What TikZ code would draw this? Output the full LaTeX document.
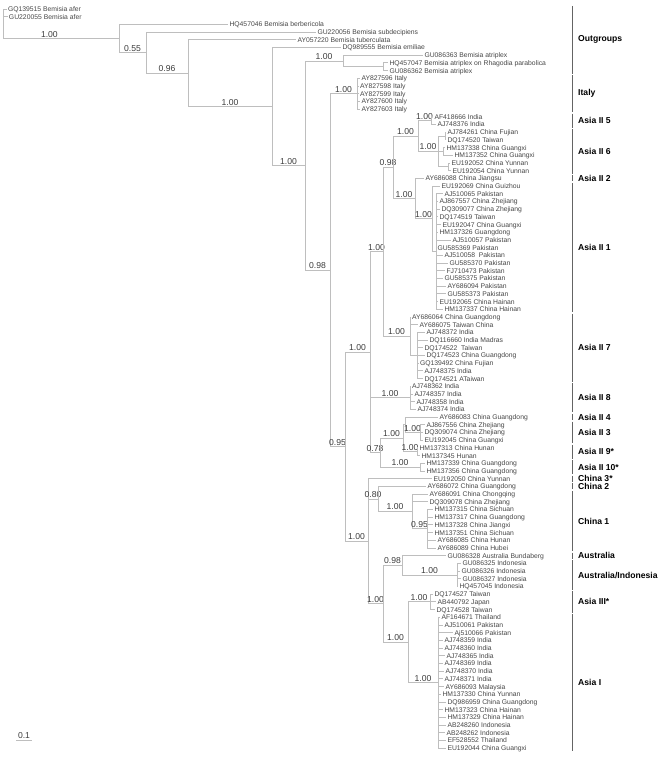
\documentclass[tikz,border=0pt]{standalone}
\usepackage{fontspec}
\setmainfont{Liberation Sans}
\usetikzlibrary{positioning}
\definecolor{brgray}{RGB}{190,190,190}
\definecolor{leafgray}{RGB}{70,70,70}
\definecolor{labgray}{RGB}{60,60,60}
\definecolor{bargray}{RGB}{100,100,100}
\begin{document}
\begin{tikzpicture}[
    x=1pt, y=-7.7pt,
    br/.style={draw=brgray, line width=0.85pt},
    leaf/.style={anchor=west, inner xsep=1.3pt, inner ysep=0pt, text height=5.2pt, text depth=0.4pt, text=leafgray, font=\fontsize{6.8}{8}\selectfont},
    bslab/.style={above, pos=.75, inner sep=1pt, text=labgray, font=\fontsize{8.6}{9}\selectfont},
    clade/.style={anchor=west, inner sep=0pt, font=\bfseries\fontsize{8.6}{10}\selectfont},
    bar/.style={draw=bargray, line width=0.9pt}
]
\useasboundingbox (0,-0.169) rectangle (661,98.79);

% inner nodes
\coordinate (r0)    at (3,4.834);
\coordinate (n119)  at (119,4.834);
\coordinate (n146)  at (146,6.667);
\coordinate (n188)  at (188,9.335);
\coordinate (n272)  at (272,13.669);
\coordinate (n305)  at (305,21.338);
\coordinate (nAtr)  at (343,7.75);
\coordinate (nAtr2) at (383,8.5);
\coordinate (n330)  at (330,34.926);
\coordinate (nIta)  at (357,12);
\coordinate (n345)  at (345,57.852);
\coordinate (nA)    at (370,45.578);
\coordinate (nI)    at (383,32.531);
\coordinate (nC)    at (393,21.563);
\coordinate (nE)    at (418,17.5);
\coordinate (n5)    at (431,15.5);
\coordinate (n6)    at (438,19.5);
\coordinate (p1)    at (445,17.5);
\coordinate (p2)    at (443,19.5);
\coordinate (p3)    at (448,21.5);
\coordinate (nG)    at (415,25.625);
\coordinate (nH)    at (432,28.25);
\coordinate (nH2)   at (436,32.5);
\coordinate (n7)    at (410,43.5);
\coordinate (nW)    at (417,46);
\coordinate (n8)    at (410,51.5);
\coordinate (nJ)    at (380,58.625);
\coordinate (nK)    at (403,56.75);
\coordinate (nL)    at (405,55);
\coordinate (n3)    at (420,56);
\coordinate (n9)    at (417,58.5);
\coordinate (n10)   at (420,60.5);
\coordinate (nB)    at (368,70.125);
\coordinate (nO)    at (378,64.625);
\coordinate (nCh1)  at (412,66.25);
\coordinate (nN)    at (427,68.5);
\coordinate (nS)    at (383,78.25);
\coordinate (nT)    at (402,73.25);
\coordinate (nU)    at (457,74.5);
\coordinate (nR)    at (408,83.25);
\coordinate (n3s)   at (430,78);
\coordinate (n1)    at (438,88.5);

% leaves
\node[leaf] (l1)  at (6.5,1)  {GQ139515 Bemisia afer};
\node[leaf] (l2)  at (7.5,2)  {GU220055 Bemisia afer};
\node[leaf] (l3)  at (228,3)  {HQ457046 Bemisia berbericola};
\node[leaf] (l4)  at (316,4)  {GU220056 Bemisia subdecipiens};
\node[leaf] (l5)  at (296,5)  {AY057220 Bemisia tuberculata};
\node[leaf] (l6)  at (341,6)  {DQ989555 Bemisia emiliae};
\node[leaf] (l7)  at (423,7)  {GU086363 Bemisia atriplex};
\node[leaf] (l8)  at (388,8)  {HQ457047 Bemisia atriplex on Rhagodia parabolica};
\node[leaf] (l9)  at (388,9)  {GU086362 Bemisia atriplex};
\node[leaf] (l10) at (360,10) {AY827596 Italy};
\node[leaf] (l11) at (358.5,11) {AY827598 Italy};
\node[leaf] (l12) at (358.5,12) {AY827599 Italy};
\node[leaf] (l13) at (360,13) {AY827600 Italy};
\node[leaf] (l14) at (360,14) {AY827603 Italy};
\node[leaf] (l15) at (433,15) {AF418666 India};
\node[leaf] (l16) at (436,16) {AJ748376 India};
\node[leaf] (l17) at (446,17) {AJ784261 China Fujian};
\node[leaf] (l18) at (446,18) {DQ174520 Taiwan};
\node[leaf] (l19) at (445,19) {HM137338 China Guangxi};
\node[leaf] (l20) at (453,20) {HM137352 China Guangxi};
\node[leaf] (l21) at (450,21) {EU192052 China Yunnan};
\node[leaf] (l22) at (451,22) {EU192054 China Yunnan};
\node[leaf] (l23) at (424,23) {AY686088 China Jiangsu};
\node[leaf] (l24) at (440,24) {EU192069 China Guizhou};
\node[leaf] (l25) at (443,25) {AJ510065 Pakistan};
\node[leaf] (l26) at (438,26) {AJ867557 China Zhejiang};
\node[leaf] (l27) at (440,27) {DQ309077 China Zhejiang};
\node[leaf] (l28) at (438,28) {DQ174519 Taiwan};
\node[leaf] (l29) at (441,29) {EU192047 China Guangxi};
\node[leaf] (l30) at (438,30) {HM137326 Guangdong};
\node[leaf] (l31) at (451,31) {AJ510057 Pakistan};
\node[leaf] (l32) at (436,32) {GU585369 Pakistan};
\node[leaf] (l33) at (443,33) {AJ510058\ \ Pakistan};
\node[leaf] (l34) at (448,34) {GU585370 Pakistan};
\node[leaf] (l35) at (445,35) {FJ710473 Pakistan};
\node[leaf] (l36) at (443,36) {GU585375 Pakistan};
\node[leaf] (l37) at (446,37) {AY686094 Pakistan};
\node[leaf] (l38) at (446,38) {GU585373 Pakistan};
\node[leaf] (l39) at (438,39) {EU192065 China Hainan};
\node[leaf] (l40) at (443,40) {HM137337 China Hainan};
\node[leaf] (l41) at (410.5,41) {AY686064 China Guangdong};
\node[leaf] (l42) at (418,42) {AY686075 Taiwan China};
\node[leaf] (l43) at (425,43) {AJ748372 India};
\node[leaf] (l44) at (428,44) {DQ116660 India Madras};
\node[leaf] (l45) at (423,45) {DQ174522\ \ Taiwan};
\node[leaf] (l46) at (425,46) {DQ174523 China Guangdong};
\node[leaf] (l47) at (418.5,47) {GQ139492 China Fujian};
\node[leaf] (l48) at (423,48) {AJ748375 India};
\node[leaf] (l49) at (423,49) {DQ174521 ATaiwan};
\node[leaf] (l50) at (410.5,50) {AJ748362 India};
\node[leaf] (l51) at (413,51) {AJ748357 India};
\node[leaf] (l52) at (415,52) {AJ748358 India};
\node[leaf] (l53) at (416,53) {AJ748374 India};
\node[leaf] (l54) at (438,54) {AY686083 China Guangdong};
\node[leaf] (l55) at (425,55) {AJ867556 China Zhejiang};
\node[leaf] (l56) at (423,56) {DQ309074 China Zhejiang};
\node[leaf] (l57) at (423,57) {EU192045 China Guangxi};
\node[leaf] (l58) at (418,58) {HM137313 China Hunan};
\node[leaf] (l59) at (420,59) {HM137345 Hunan};
\node[leaf] (l60) at (425,60) {HM137339 China Guangdong};
\node[leaf] (l61) at (425,61) {HM137356 China Guangdong};
\node[leaf] (l62) at (432,62) {EU192050 China Yunnan};
\node[leaf] (l63) at (426,63) {AY686072 China Guangdong};
\node[leaf] (l64) at (428,64) {AY686091 China Chongqing};
\node[leaf] (l65) at (428,65) {DQ309078 China Zhejiang};
\node[leaf] (l66) at (433,66) {HM137315 China Sichuan};
\node[leaf] (l67) at (433,67) {HM137317 China Guangdong};
\node[leaf] (l68) at (433,68) {HM137328 China Jiangxi};
\node[leaf] (l69) at (433,69) {HM137351 China Sichuan};
\node[leaf] (l70) at (436,70) {AY686085 China Hunan};
\node[leaf] (l71) at (436,71) {AY686089 China Hubei};
\node[leaf] (l72) at (446,72) {GU086328 Australia Bundaberg};
\node[leaf] (l73) at (461,73) {GU086325 Indonesia};
\node[leaf] (l74) at (460,74) {GU086326 Indonesia};
\node[leaf] (l75) at (461,75) {GU086327 Indonesia};
\node[leaf] (l76) at (458,76) {HQ457045 Indonesia};
\node[leaf] (l77) at (433,77) {DQ174527 Taiwan};
\node[leaf] (l78) at (436,78) {AB440792 Japan};
\node[leaf] (l79) at (435,79) {DQ174528 Taiwan};
\node[leaf] (l80) at (440,80) {AF164671 Thailand};
\node[leaf] (l81) at (443,81) {AJ510061 Pakistan};
\node[leaf] (l82) at (453,82) {Aj510066 Pakistan};
\node[leaf] (l83) at (443,83) {AJ748359 India};
\node[leaf] (l84) at (443,84) {AJ748360 India};
\node[leaf] (l85) at (445,85) {AJ748365 India};
\node[leaf] (l86) at (443,86) {AJ748369 India};
\node[leaf] (l87) at (444,87) {AJ748370 India};
\node[leaf] (l88) at (443,88) {AJ748371 India};
\node[leaf] (l89) at (444,89) {AY686093 Malaysia};
\node[leaf] (l90) at (441,90) {HM137330 China Yunnan};
\node[leaf] (l91) at (446,91) {DQ986959 China Guangdong};
\node[leaf] (l92) at (443,92) {HM137323 China Hainan};
\node[leaf] (l93) at (446,93) {HM137329 China Hainan};
\node[leaf] (l94) at (446,94) {AB248260 Indonesia};
\node[leaf] (l95) at (445,95) {AB248262 Indonesia};
\node[leaf] (l96) at (446,96) {EF528552 Thailand};
\node[leaf] (l97) at (446,97) {EU192044 China Guangxi};

% outgroups and Italy
\draw[br] (r0) |- (l1.west) (r0) |- (l2.west);
\draw[br] (r0) |- node[bslab, pos=.7]{1.00} (n119);
\draw[br] (n119) |- (l3.west);
\draw[br] (n119) |- node[bslab]{0.55} (n146);
\draw[br] (n146) |- (l4.west);
\draw[br] (n146) |- node[bslab]{0.96} (n188);
\draw[br] (n188) |- (l5.west);
\draw[br] (n188) |- node[bslab]{1.00} (n272);
\draw[br] (n272) |- (l6.west);
\draw[br] (n272) |- node[bslab]{1.00} (n305);
\draw[br] (n305) |- node[bslab]{1.00} (nAtr);
\draw[br] (nAtr) |- (l7.west) (nAtr) |- (nAtr2);
\draw[br] (nAtr2) |- (l8.west) (nAtr2) |- (l9.west);
\draw[br] (n305) |- node[bslab]{0.98} (n330);
\draw[br] (n330) |- node[bslab]{1.00} (nIta);
\foreach \i in {10,...,14} \draw[br] (nIta) |- (l\i.west);
\draw[br] (n330) |- node[bslab]{0.95} (n345);

% Asia II
\draw[br] (n345) |- node[bslab]{1.00} (nA);
\draw[br] (nA) |- node[bslab]{1.00} (nI);
\draw[br] (nI) |- node[bslab]{0.98} (nC);
\draw[br] (nC) |- node[bslab]{1.00} (nE);
\draw[br] (nE) |- node[bslab]{1.00} (n5);
\draw[br] (n5) |- (l15.west) (n5) |- (l16.west);
\draw[br] (nE) |- node[bslab]{1.00} (n6);
\draw[br] (n6) |- (p1) (n6) |- (p2) (n6) |- (p3);
\draw[br] (p1) |- (l17.west) (p1) |- (l18.west) (p2) |- (l19.west)
          (p2) |- (l20.west) (p3) |- (l21.west) (p3) |- (l22.west);
\draw[br] (nC) |- node[bslab]{1.00} (nG);
\draw[br] (nG) |- (l23.west);
\draw[br] (nG) |- node[bslab]{1.00} (nH);
\draw[br] (nH) |- (l24.west) (nH) |- (nH2);
\foreach \i in {25,...,40} \draw[br] (nH2) |- (l\i.west);
\draw[br] (nI) |- node[bslab]{1.00} (n7);
\draw[br] (n7) |- (l41.west) (n7) |- (l42.west) (n7) |- (nW);
\foreach \i in {43,...,49} \draw[br] (nW) |- (l\i.west);
\draw[br] (nA) |- node[bslab]{1.00} (n8);
\foreach \i in {50,...,53} \draw[br] (n8) |- (l\i.west);
\draw[br] (nA) |- node[bslab]{0.78} (nJ);
\draw[br] (nJ) |- node[bslab]{1.00} (nK);
\draw[br] (nK) |- (nL);
\draw[br] (nL) |- (l54.west);
\draw[br] (nL) |- node[bslab]{1.00} (n3);
\foreach \i in {55,...,57} \draw[br] (n3) |- (l\i.west);
\draw[br] (nK) |- node[bslab]{1.00} (n9);
\draw[br] (n9) |- (l58.west) (n9) |- (l59.west);
\draw[br] (nJ) |- node[bslab]{1.00} (n10);
\draw[br] (n10) |- (l60.west) (n10) |- (l61.west);

% China, Australia, Asia III and Asia I
\draw[br] (n345) |- node[bslab]{1.00} (nB);
\draw[br] (nB) |- (l62.west);
\draw[br] (nB) |- node[bslab]{0.80} (nO);
\draw[br] (nO) |- (l63.west);
\draw[br] (nO) |- node[bslab]{1.00} (nCh1);
\draw[br] (nCh1) |- (l64.west) (nCh1) |- (l65.west);
\draw[br] (nCh1) |- node[bslab]{0.95} (nN);
\foreach \i in {66,...,71} \draw[br] (nN) |- (l\i.west);
\draw[br] (nB) |- node[bslab]{1.00} (nS);
\draw[br] (nS) |- node[bslab]{0.98} (nT);
\draw[br] (nT) |- (l72.west);
\draw[br] (nT) |- node[bslab]{1.00} (nU);
\foreach \i in {73,...,76} \draw[br] (nU) |- (l\i.west);
\draw[br] (nS) |- node[bslab]{1.00} (nR);
\draw[br] (nR) |- node[bslab]{1.00} (n3s);
\foreach \i in {77,...,79} \draw[br] (n3s) |- (l\i.west);
\draw[br] (nR) |- node[bslab]{1.00} (n1);
\foreach \i in {80,...,97} \draw[br] (n1) |- (l\i.west);

% clade bars
\foreach \a/\b/\t in {1/9/Outgroups, 10/14/Italy, 15/16/Asia II 5, 17/22/Asia II 6,
    23/23/Asia II 2, 24/40/Asia II 1, 41/49/Asia II 7, 50/53/Asia II 8,
    54/54/Asia II 4, 55/57/Asia II 3, 58/59/Asia II 9*, 60/61/Asia II 10*,
    62/62/China 3*, 63/63/China 2, 64/71/China 1, 72/72/Australia,
    73/76/{Australia/Indonesia}, 77/79/Asia III*, 80/97/Asia I} {
  \draw[bar] (572,\a-0.4) -- (572,\b+0.4);
  \node[clade] (g\a) at (578,{(\a+\b)/2}) {\t};
}

% scale bar
\coordinate (sb0) at (16,95.95);
\coordinate (sb1) at (32,95.95);
\draw[br] (sb0) -- node[bslab, pos=.5] (sbl) {0.1} (sb1);
\end{tikzpicture}
\end{document}
